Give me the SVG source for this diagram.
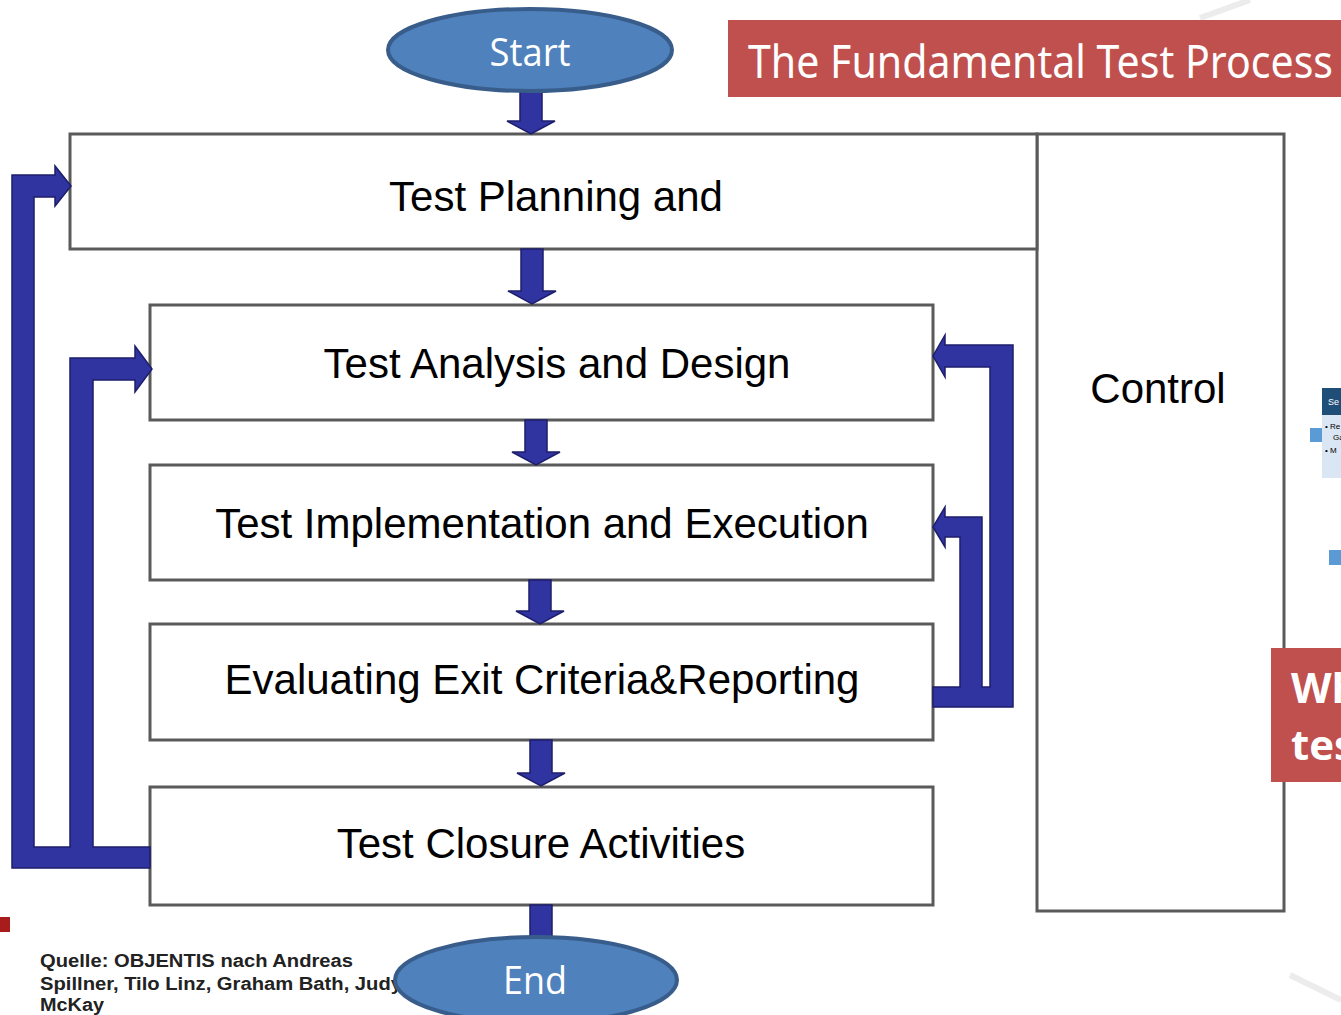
<svg xmlns="http://www.w3.org/2000/svg" width="1341" height="1015" viewBox="0 0 1341 1015">
<style>
.box{fill:#ffffff;stroke:#5a5a5a;stroke-width:3}
.lbl{font-family:"Liberation Sans",Arial,sans-serif;font-size:42px;fill:#000;text-anchor:middle}
.term{fill:#4f81bd;stroke:#385d8a;stroke-width:4}
.termtxt{font-family:"Open Sans","Noto Sans",sans-serif;font-size:38px;fill:#fff;text-anchor:middle}
.arr{fill:#3034a0;stroke:#1c1d6b;stroke-width:1.5;stroke-linejoin:miter}
.src{font-family:"Liberation Sans",Arial,sans-serif;font-size:18px;font-weight:bold;fill:#222}
.frag{font-family:"Liberation Sans",sans-serif;font-size:8px;fill:#000}
</style>
<rect width="1341" height="1015" fill="#ffffff"/>
<g id="decor" stroke="#ececec" stroke-width="6" fill="none">
<line x1="1200" y1="18" x2="1250" y2="0"/>
<line x1="1290" y1="975" x2="1341" y2="1000"/>
</g>
<g id="title">
<rect x="728" y="20" width="613" height="77" fill="#c0504d"/>
<text x="748" y="78" font-family="'Noto Sans','Open Sans',sans-serif" font-size="46" fill="#fff" textLength="585" lengthAdjust="spacingAndGlyphs">The Fundamental Test Process</text>
</g>
<g id="control">
<rect class="box" x="1037" y="134" width="247" height="777"/>
<text class="lbl" x="1158" y="403">Control</text>
</g>
<g id="planning">
<rect class="box" x="70" y="134" width="967" height="115"/>
<text class="lbl" x="556" y="211">Test Planning and</text>
</g>
<g id="analysis">
<rect class="box" x="150" y="305" width="783" height="115"/>
<text class="lbl" x="557" y="378">Test Analysis and Design</text>
</g>
<g id="implementation">
<rect class="box" x="150" y="465" width="783" height="115"/>
<text class="lbl" x="542" y="538">Test Implementation and Execution</text>
</g>
<g id="evaluating">
<rect class="box" x="150" y="624" width="783" height="116"/>
<text class="lbl" x="542" y="694">Evaluating Exit Criteria&amp;Reporting</text>
</g>
<g id="closure">
<rect class="box" x="150" y="787" width="783" height="118"/>
<text class="lbl" x="541" y="858">Test Closure Activities</text>
</g>
<g id="connectors">
<polygon class="arr" points="520,90 542,90 542,121 555,121 531,134 507,121 520,121"/>
<polygon class="arr" points="521,249 543,249 543,291 556,291 532,304 508,291 521,291"/>
<polygon class="arr" points="525,420 547,420 547,452 560,452 536,465 512,452 525,452"/>
<polygon class="arr" points="529,580 551,580 551,611 564,611 540,624 516,611 529,611"/>
<polygon class="arr" points="530,740 552,740 552,773 565,773 541,786 517,773 530,773"/>
<rect class="arr" x="530" y="905" width="22" height="40"/>
<path class="arr" d="M150,868 L12,868 L12,175 L55,175 L55,166 L71,186 L55,206 L55,197 L34,197 L34,847 L70,847 L70,358 L135,358 L135,346 L152,369 L135,392 L135,380 L93,380 L93,847 L150,847 Z"/>
<path class="arr" d="M933,707 L1013,707 L1013,345 L945,345 L945,335 L933,356 L945,377 L945,367 L990,367 L990,687 L982,687 L982,517 L945,517 L945,507 L933,527 L945,547 L945,537 L960,537 L960,687 L933,687 Z"/>
</g>
<g id="start">
<ellipse class="term" cx="530" cy="50" rx="142" ry="41"/>
<text class="termtxt" x="530" y="66" textLength="81" lengthAdjust="spacingAndGlyphs">Start</text>
</g>
<g id="source">
<rect x="0" y="917" width="10" height="15" fill="#a81c1c"/>
<text class="src" x="40" y="967" textLength="313" lengthAdjust="spacingAndGlyphs">Quelle: OBJENTIS nach Andreas</text>
<text class="src" x="40" y="990" textLength="362" lengthAdjust="spacingAndGlyphs">Spillner, Tilo Linz, Graham Bath, Judy</text>
<text class="src" x="40" y="1011" textLength="64" lengthAdjust="spacingAndGlyphs">McKay</text>
</g>
<g id="end">
<ellipse class="term" cx="536" cy="980" rx="141" ry="43"/>
<text class="termtxt" x="535" y="994" textLength="64" lengthAdjust="spacingAndGlyphs">End</text>
</g>
<g id="side-fragments">
<rect x="1322" y="388" width="19" height="27" fill="#1f4e79"/>
<text x="1328" y="405" font-family="'Liberation Sans',sans-serif" font-size="9" fill="#fff">Se</text>
<rect x="1322" y="415" width="19" height="63" fill="#dbe6f4"/>
<text class="frag" x="1325" y="429">• Re</text>
<text class="frag" x="1333" y="440">Ga</text>
<text class="frag" x="1325" y="453">• M</text>
<rect x="1310" y="428" width="12" height="14" fill="#5b9bd5"/>
<rect x="1329" y="550" width="12" height="15" fill="#5b9bd5"/>
<rect x="1271" y="648" width="70" height="134" fill="#c0504d"/>
<text x="1291" y="703" font-family="'Open Sans','Noto Sans',sans-serif" font-size="42" font-weight="bold" fill="#fff">Wh</text>
<text x="1291" y="760" font-family="'Open Sans','Noto Sans',sans-serif" font-size="42" font-weight="bold" fill="#fff">tes</text>
</g>
</svg>
